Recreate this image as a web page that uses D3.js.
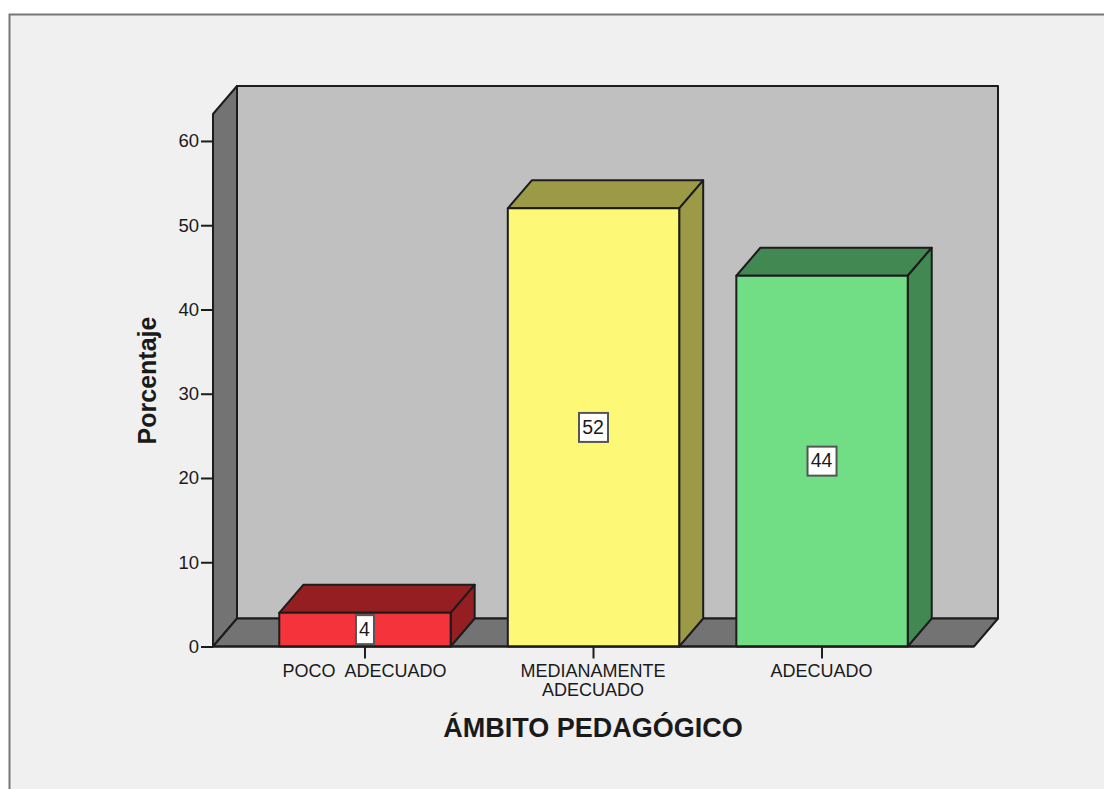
<!DOCTYPE html>
<html>
<head>
<meta charset="utf-8">
<script src="https://cdn.jsdelivr.net/npm/d3@7"></script>
<style>
  html, body { margin: 0; padding: 0; background: #fff; }
  svg { display: block; }
  text { font-family: "Liberation Sans", Arial, sans-serif; fill: #1a1a1a; }
</style>
</head>
<body>
<div id="container"></div>
<script>
const categories = ["POCO ADECUADO", "MEDIANAMENTE ADECUADO", "ADECUADO"];
const tickLabels = [
  ["POCO ADECUADO"],
  ["MEDIANAMENTE", "ADECUADO"],
  ["ADECUADO"]
];
const values = [4, 52, 44];
const frontColors = ["#f4333b", "#fdf875", "#71de86"];
const shadeColors = ["#951e22", "#9d9a47", "#428852"];
const yTicks = [0, 10, 20, 30, 40, 50, 60];
const yMax = 63.2;

const w = 1104, h = 789;
const dx = 24, dy = -28;   // depth of the 3d box
const line = "#1c1c1c";

const svg = d3.select("#container").append("svg").attr("width", w).attr("height", h);

// frame
svg.append("rect").attr("x", 9.5).attr("y", 14.5).attr("width", w + 20).attr("height", h + 20)
  .attr("fill", "#f0f0f0").attr("stroke", "#777").attr("stroke-width", 2);

const xScale = d3.scaleBand().domain(categories).range([213, 974]).paddingInner(0.25).paddingOuter(0.29);
const yScale = d3.scaleLinear().domain([0, yMax]).range([646.5, 114]);

const poly = (pts, fill) => svg.append("polygon")
  .attr("points", pts.map(p => p.join(",")).join(" "))
  .attr("fill", fill).attr("stroke", line).attr("stroke-width", 2).attr("stroke-linejoin", "round");

const x0 = xScale.range()[0], x1 = xScale.range()[1];
const yB = yScale(0), yT = yScale(yMax);

// back wall, side wall, floor
poly([[x0 + dx, yT + dy], [x1 + dx, yT + dy], [x1 + dx, yB + dy], [x0 + dx, yB + dy]], "#c0c0c0");
poly([[x0, yT], [x0 + dx, yT + dy], [x0 + dx, yB + dy], [x0, yB]], "#737373");
poly([[x0, yB], [x0 + dx, yB + dy], [x1 + dx, yB + dy], [x1, yB]], "#737373");

// y axis
const yAxisGroup = svg.append("g").attr("transform", `translate(${x0},0)`)
  .call(d3.axisLeft(yScale).tickValues(yTicks).tickSize(12).tickPadding(2).tickSizeOuter(0));
yAxisGroup.select(".domain").remove();
yAxisGroup.selectAll("line").attr("stroke", line).attr("stroke-width", 2);
yAxisGroup.selectAll("text").attr("font-size", 18.5).attr("fill", "#1a1a1a")
  .style("font-family", '"Liberation Sans", Arial, sans-serif');

// bars
categories.forEach((c, i) => {
  const l = xScale(c), r = l + xScale.bandwidth(), t = yScale(values[i]);
  poly([[l, t], [l + dx, t + dy], [r + dx, t + dy], [r, t]], shadeColors[i]);
  poly([[r, t], [r + dx, t + dy], [r + dx, yB + dy], [r, yB]], shadeColors[i]);
  poly([[l, t], [r, t], [r, yB], [l, yB]], frontColors[i]);
});

// baseline of the front edge
svg.append("line").attr("x1", x0).attr("x2", x1).attr("y1", yB).attr("y2", yB)
  .attr("stroke", line).attr("stroke-width", 2);

// x ticks and labels
categories.forEach((c, i) => {
  const cx = xScale(c) + xScale.bandwidth() / 2;
  svg.append("line").attr("x1", cx).attr("x2", cx).attr("y1", yB).attr("y2", yB + 12)
    .attr("stroke", line).attr("stroke-width", 2);
  tickLabels[i].forEach((t, k) => {
    svg.append("text").attr("x", cx - 0.5).attr("y", 677 + k * 18.5)
      .attr("text-anchor", "middle").attr("font-size", 18).attr("word-spacing", 5).text(t);
  });
});

// value labels
categories.forEach((c, i) => {
  const cx = xScale(c) + xScale.bandwidth() / 2;
  const cy = yScale(values[i] / 2);
  const bw = String(values[i]).length > 1 ? 29 : 18;
  svg.append("rect").attr("x", cx - bw / 2).attr("y", cy - 14.5).attr("width", bw).attr("height", 29)
    .attr("fill", "#fff").attr("stroke", "#555").attr("stroke-width", 2);
  svg.append("text").attr("x", cx - 0.5).attr("y", cy + 6.3)
    .attr("text-anchor", "middle").attr("font-size", 19.5).text(values[i]);
});

// axis titles
svg.append("text").attr("transform", "translate(156,380.5) rotate(-90)")
  .attr("text-anchor", "middle").attr("font-size", 25).attr("font-weight", "bold").text("Porcentaje");
svg.append("text").attr("x", 593).attr("y", 737)
  .attr("text-anchor", "middle").attr("font-size", 27).attr("font-weight", "bold").text("ÁMBITO PEDAGÓGICO");
</script>
</body>
</html>
